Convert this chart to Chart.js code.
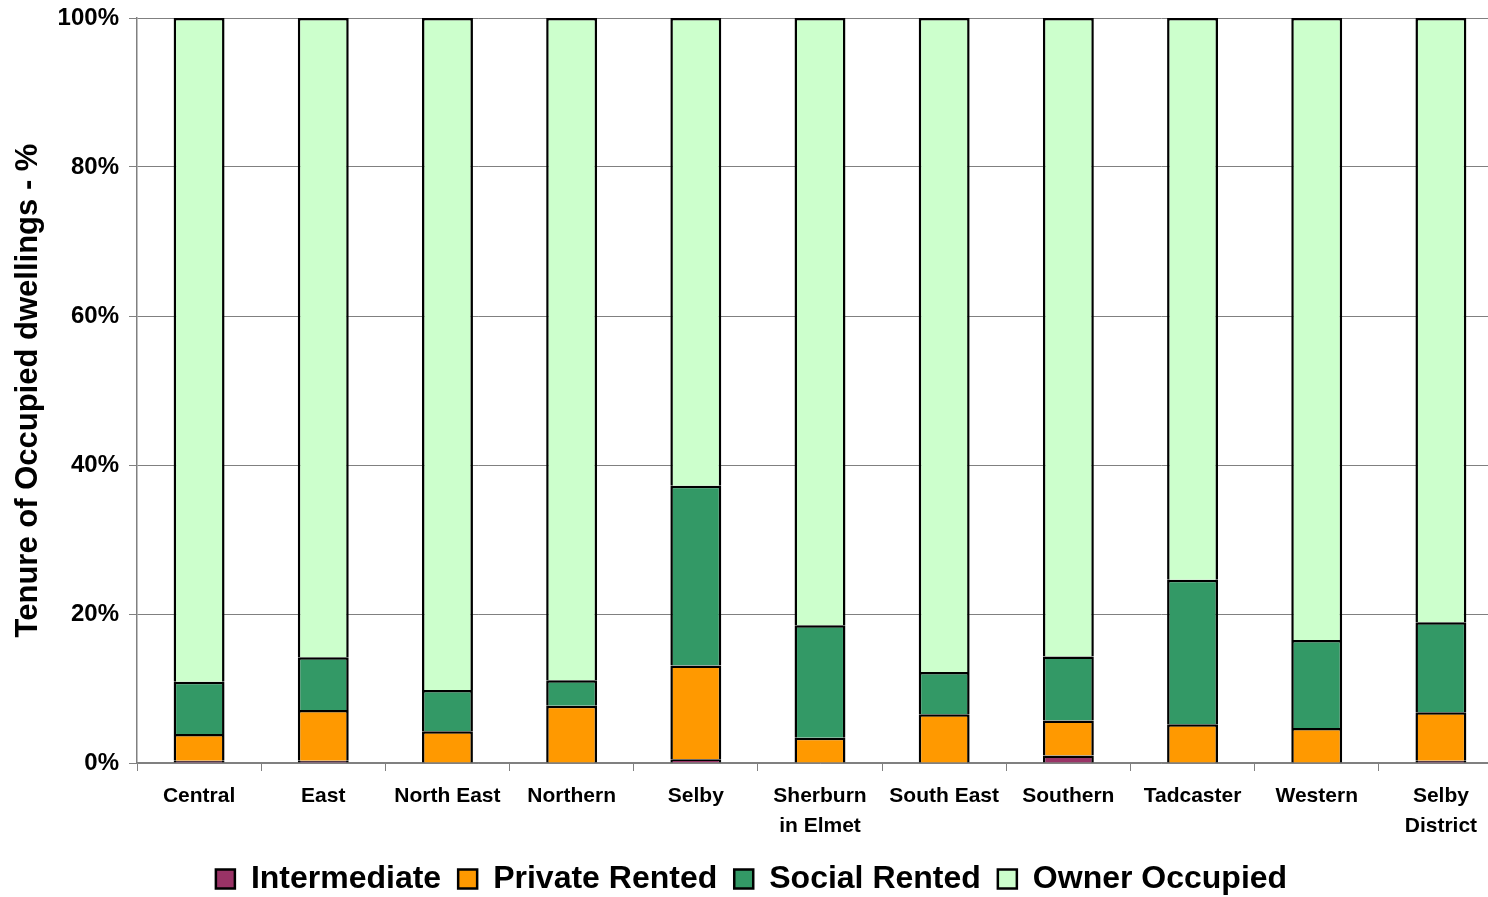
<!DOCTYPE html>
<html>
<head>
<meta charset="utf-8">
<title>Tenure of Occupied dwellings</title>
<script src="https://cdn.jsdelivr.net/npm/chart.js@4/dist/chart.umd.min.js"></script>
<style>
  html, body { margin: 0; padding: 0; background: #fff; overflow: hidden; }
  #wrap { width: 1488px; height: 897px; overflow: hidden; }
  canvas { display: block; }
</style>
</head>
<body>
<div id="wrap">
  <canvas id="tenureChart" width="1504" height="905"></canvas>
</div>
<script>
/* Sub-areas of the district */
var areas = ['Central', 'East', 'North East', 'Northern', 'Selby', ['Sherburn', 'in Elmet'],
  'South East', 'Southern', 'Tadcaster', 'Western', ['Selby', 'District']];

/* Share of occupied dwellings, % */
var intermediate = [0.3, 0.3, 0, 0, 0.5, 0, 0, 1.0, 0, 0, 0.3];
var privateRented = [3.6, 6.8, 4.25, 7.7, 12.6, 3.4, 6.55, 4.7, 5.2, 4.7, 6.5];
var socialRented = [7.0, 7.1, 5.55, 3.4, 24.1, 15.1, 5.65, 8.6, 19.4, 11.8, 12.1];
var ownerOccupied = [89.1, 85.8, 90.2, 88.9, 62.8, 81.5, 87.8, 85.7, 75.4, 83.5, 81.1];

var yTicks = [0, 20, 40, 60, 80, 100];

var font = "'Liberation Sans', Arial, Helvetica, sans-serif";

// every segment keeps its top and side borders, the one above closes it
function serie(label, data, color) {
  return {
    label: label,
    data: data,
    backgroundColor: color,
    borderColor: '#000',
    borderWidth: 2.5,
    borderSkipped: 'start',
    barPercentage: 0.41,
    categoryPercentage: 1.0
  };
}

var ctx = document.getElementById('tenureChart').getContext('2d');
var chart = new Chart(ctx, {
  type: 'bar',
  data: {
    labels: areas,
    datasets: [
      serie('Intermediate', intermediate, '#993366'),
      serie('Private Rented', privateRented, '#FF9900'),
      serie('Social Rented', socialRented, '#339966'),
      serie('Owner Occupied', ownerOccupied, '#CCFFCC')
    ]
  },
  options: {
    responsive: false,
    animation: false,
    devicePixelRatio: 1,
    layout: { padding: { top: 18, right: 1, left: 0, bottom: 0 } },
    plugins: {
      tooltip: { enabled: false },
      legend: {
        position: 'bottom',
        labels: {
          color: '#000',
          font: { family: font, size: 32, weight: 'bold' },
          boxWidth: 19,
          boxHeight: 19,
          padding: 17
        }
      }
    },
    scales: {
      x: {
        stacked: true,
        offset: true,
        grid: { drawOnChartArea: false, drawTicks: true, tickLength: 8, color: '#808080', offset: true },
        border: { color: '#808080', width: 1.5 },
        ticks: {
          color: '#000',
          padding: 10,
          maxRotation: 0,
          autoSkip: false,
          font: { family: font, size: 21, weight: 'bold', lineHeight: 1.45 }
        },
        afterFit: function (axis) { axis.height = 83; }
      },
      y: {
        stacked: true,
        min: 0,
        max: 100,
        afterBuildTicks: function (axis) {
          axis.ticks = yTicks.map(function (v) { return { value: v }; });
        },
        grid: { color: '#808080', lineWidth: 1, tickLength: 8 },
        border: { color: '#808080', width: 1.5 },
        ticks: {
          color: '#000',
          padding: 10,
          font: { family: font, size: 24, weight: 'bold' },
          callback: function (v) { return v + '%'; }
        },
        title: {
          display: true,
          text: 'Tenure of Occupied dwellings - %',
          color: '#000',
          font: { family: font, size: 31, weight: 'bold' },
          padding: { top: 10, bottom: 0 }
        },
        afterFit: function (axis) {
          axis.width = 137;
          axis.paddingTop = 0;
          axis.paddingBottom = 0;
        }
      }
    }
  }
});
</script>
</body>
</html>
